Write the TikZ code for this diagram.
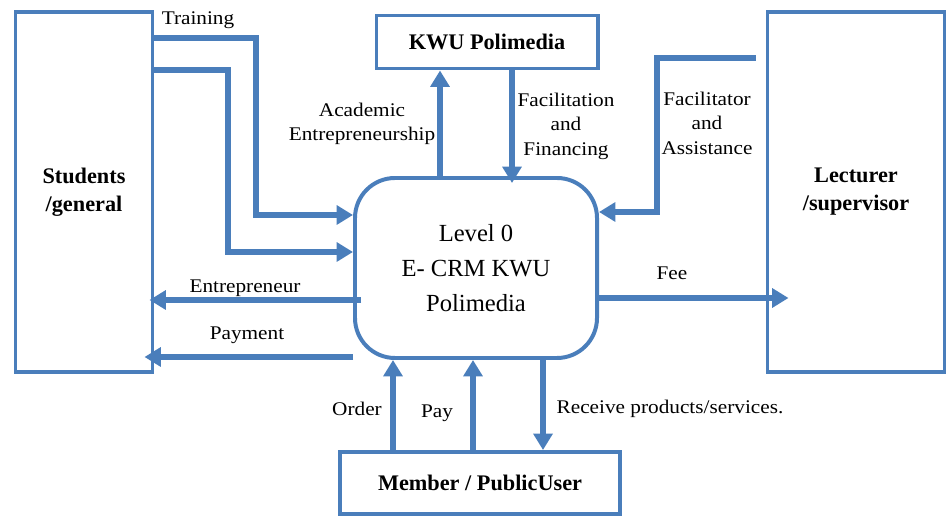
\documentclass[tikz,border=0pt]{standalone}
\usepackage{fontspec}
\setmainfont{Liberation Serif}
\newfontfamily\widefont[FakeStretch=1.1]{Liberation Serif}
\usetikzlibrary{arrows.meta,calc}
\definecolor{dfdblue}{RGB}{74,126,187}
\tikzset{
  entity/.style={draw=dfdblue, line width=3.4pt, fill=white, inner sep=0pt,
    font=\fontsize{19}{24}\selectfont\bfseries, align=center},
  flow/.style={draw=dfdblue, line width=4.5pt, -{Triangle[length=14pt,width=16pt]}},
  lbl/.style={font=\widefont\fontsize{16.5}{21}\selectfont, align=center, inner sep=0pt},
}
\begin{document}
\begin{tikzpicture}[x=0.03cm, y=-0.03cm]
  \useasboundingbox (0,0) rectangle (946,517);

  % external entities and the process
  \node[entity, minimum width=4.11cm, minimum height=10.8cm] (stud) at (84,192) {Students\\/general};
  \node[entity, minimum width=6.63cm, minimum height=1.59cm] (kwu) at (487,42) {KWU Polimedia};
  \node[entity, minimum width=5.31cm, minimum height=10.8cm] (lect) at (856,192) {Lecturer\\/supervisor};
  \node[entity, minimum width=7.26cm, minimum height=5.4cm, rounded corners=1.2cm,
    font=\fontsize{21}{30}\selectfont] (crm) at (476,268) {Level 0\\E- CRM KWU\\Polimedia};
  \node[entity, minimum width=8.4cm, minimum height=1.86cm] (mem) at (480,483) {Member / PublicUser};

  % levels used by the flows
  \coordinate (yTr) at (0,38);
  \coordinate (yTr2) at (0,215);
  \coordinate (ySt) at (0,70);
  \coordinate (ySt2) at (0,252);
  \coordinate (yFa) at (0,58);
  \coordinate (yFa2) at (0,212);
  \coordinate (yEn) at (0,300);
  \coordinate (yPa) at (0,357);
  \coordinate (yFe) at (0,298);
  \coordinate (xAc) at (440,0);
  \coordinate (xFi) at (512,0);
  \coordinate (xOr) at (393,0);
  \coordinate (xPy) at (473,0);
  \coordinate (xRe) at (543,0);

  % flows
  \draw[flow] (stud.east |- yTr) -| (256,215) -- (crm.west |- yTr2);
  \draw[flow] (stud.east |- ySt) -| (228,252) -- (crm.west |- ySt2);
  \draw[flow] (crm.north -| xAc) -- (kwu.south -| xAc);
  \draw[flow] (kwu.south -| xFi) -- ($(crm.north -| xFi)+(0,7)$);
  \draw[flow] ($(lect.west |- yFa)+(-10,0)$) -| (657,212) -- (crm.east |- yFa2);
  \draw[flow] ($(crm.west |- yEn)+(8,0)$) -- ($(stud.east |- yEn)+(-5,0)$);
  \draw[flow] (crm.west |- yPa) -- ($(stud.east |- yPa)+(-10,0)$);
  \draw[flow] (crm.east |- yFe) -- ($(lect.west |- yFe)+(23,0)$);
  \draw[flow] (mem.north -| xOr) -- (crm.south -| xOr);
  \draw[flow] (mem.north -| xPy) -- (crm.south -| xPy);
  \draw[flow] (crm.south -| xRe) -- (mem.north -| xRe);

  % flow labels
  \node[lbl] (lTr) at (198,20) {Training};
  \node[lbl] (lAc) at (362,124) {Academic\\Entrepreneurship};
  \node[lbl] (lFi) at (566,126) {Facilitation\\and\\Financing};
  \node[lbl] (lFa) at (707,123) {Facilitator\\and\\Assistance};
  \node[lbl] (lEn) at (245,288) {Entrepreneur};
  \node[lbl] (lPa) at (247,335) {Payment};
  \node[lbl] (lFe) at (672,273) {Fee};
  \node[lbl] (lOr) at (357,409) {Order};
  \node[lbl] (lPy) at (437,413) {Pay};
  \node[lbl] (lRe) at (670,409) {Receive products/services.};
\end{tikzpicture}
\end{document}
